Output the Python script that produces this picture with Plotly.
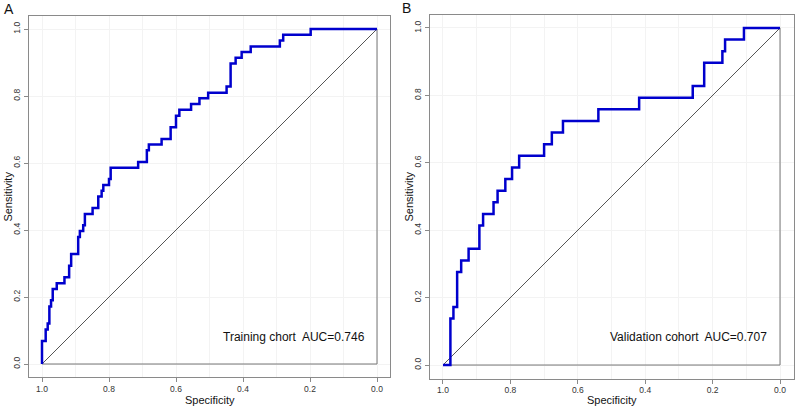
import plotly.graph_objects as go

# ---------------- data ----------------
train_spec = [1.0, 1.0, 0.989, 0.983, 0.978, 0.973, 0.968, 0.956, 0.933, 0.919, 0.913,
              0.892, 0.887, 0.877, 0.872, 0.849, 0.832, 0.822, 0.817, 0.800, 0.795,
              0.713, 0.687, 0.681, 0.643, 0.616, 0.600, 0.590, 0.555, 0.530, 0.504,
              0.449, 0.437, 0.422, 0.404, 0.377, 0.290, 0.280, 0.198, 0.0]
train_sens = [0.0, 0.069, 0.103, 0.121, 0.172, 0.190, 0.224, 0.241, 0.259, 0.293, 0.328,
              0.379, 0.397, 0.414, 0.448, 0.466, 0.500, 0.517, 0.534, 0.552, 0.586,
              0.603, 0.638, 0.655, 0.672, 0.707, 0.741, 0.759, 0.776, 0.793, 0.810,
              0.828, 0.897, 0.914, 0.931, 0.948, 0.966, 0.983, 1.0, 1.0]

val_spec = [1.0, 0.978, 0.969, 0.958, 0.946, 0.924, 0.892, 0.881, 0.850, 0.838, 0.815,
            0.795, 0.774, 0.700, 0.677, 0.644, 0.539, 0.418, 0.259, 0.225, 0.171,
            0.163, 0.107, 0.0]
val_sens = [0.0, 0.138, 0.172, 0.276, 0.310, 0.345, 0.414, 0.448, 0.483, 0.517, 0.552,
            0.586, 0.621, 0.655, 0.690, 0.724, 0.759, 0.793, 0.828, 0.897, 0.931,
            0.966, 1.0, 1.0]

panel_labels = ["A", "B"]
auc_texts = ["Training chort  AUC=0.746", "Validation cohort  AUC=0.707"]
tick_vals = [0.0, 0.2, 0.4, 0.6, 0.8, 1.0]
tick_text = ["0.0", "0.2", "0.4", "0.6", "0.8", "1.0"]
ref_x = [1.0, 0.0]
ref_y = [0.0, 1.0]
frame_x = [1.0, 0.0, 0.0]
frame_y = [0.0, 0.0, 1.0]

# ---------------- figure ----------------
W, H = 795, 406
FONT = "Liberation Sans, Arial, sans-serif"
BLUE = "#0000CD"
GRAY = "#8a8a8a"

# panel boxes in pixels: (left, right, top, bottom)
boxes = [(28.6, 390.4, 15.6, 377.4), (429.5, 793.5, 14.5, 378.5)]

fig = go.Figure()
curves = [(train_spec, train_sens), (val_spec, val_sens)]

for i, (spec, sens) in enumerate(curves):
    xa = "x" if i == 0 else "x2"
    ya = "y" if i == 0 else "y2"
    fig.add_trace(go.Scatter(x=frame_x, y=frame_y, mode="lines",
                             line=dict(color="#777777", width=1),
                             xaxis=xa, yaxis=ya, hoverinfo="skip", showlegend=False))
    fig.add_trace(go.Scatter(x=ref_x, y=ref_y, mode="lines",
                             line=dict(color="#555555", width=1),
                             xaxis=xa, yaxis=ya, hoverinfo="skip", showlegend=False))
    fig.add_trace(go.Scatter(x=spec, y=sens, mode="lines",
                             line=dict(color=BLUE, width=2.5, shape="hv"),
                             xaxis=xa, yaxis=ya, showlegend=False))

axis_common = dict(
    showline=True, mirror=True, linecolor=GRAY, linewidth=1,
    ticks="outside", ticklen=4, tickcolor=GRAY, tickwidth=1,
    tickvals=tick_vals, ticktext=tick_text,
    tickfont=dict(family=FONT, size=8.5, color="#333333"),
    showgrid=True, gridcolor="#f3f3f3", gridwidth=1, zeroline=False,
    automargin=False,
)

for i, (l, r, t, b) in enumerate(boxes):
    xd = [l / W, r / W]
    yd = [1 - b / H, 1 - t / H]
    xkey = "xaxis" if i == 0 else "xaxis2"
    ykey = "yaxis" if i == 0 else "yaxis2"
    xa = dict(axis_common)
    xa.update(domain=xd, range=[1.04, -0.04], anchor="y" if i == 0 else "y2",
              minor=dict(dtick=0.1, tick0=0, showgrid=True, gridcolor="#f3f3f3", ticks=""),
              ticklabelstandoff=-1)
    ya = dict(axis_common)
    ya.update(domain=yd, range=[-0.04, 1.04], anchor="x" if i == 0 else "x2",
              tickangle=-90, ticklabelstandoff=0)
    fig.layout[xkey] = xa
    fig.layout[ykey] = ya

annotations = []
# panel letters
letter_pos = [(9, 9), (406, 8)]
for lab, (px, py) in zip(panel_labels, letter_pos):
    annotations.append(dict(text=lab, x=px / W, y=1 - py / H, xref="paper", yref="paper",
                            showarrow=False, xanchor="center", yanchor="middle",
                            font=dict(family=FONT, size=14, color="#111111")))
# axis titles
for i, (l, r, t, b) in enumerate(boxes):
    cx = (l + r) / 2
    cy = (t + b) / 2
    annotations.append(dict(text="Specificity", x=cx / W, y=1 - 400 / H,
                            xref="paper", yref="paper", showarrow=False,
                            xanchor="center", yanchor="middle",
                            font=dict(family=FONT, size=11, color="#111111")))
    annotations.append(dict(text="Sensitivity", x=(l - 21.5) / W, y=1 - cy / H,
                            xref="paper", yref="paper", showarrow=False, textangle=-90,
                            xanchor="center", yanchor="middle",
                            font=dict(family=FONT, size=11, color="#111111")))
# AUC texts (placed in data coordinates)
auc_pos = [(0.248, 0.08), (0.271, 0.083)]
for i, (txt, (ax, ay)) in enumerate(zip(auc_texts, auc_pos)):
    annotations.append(dict(text=txt, x=ax, y=ay, xref="x" if i == 0 else "x2",
                            yref="y" if i == 0 else "y2", showarrow=False,
                            xanchor="center", yanchor="middle",
                            font=dict(family=FONT, size=12, color="#111111")))

fig.update_layout(
    width=W, height=H, margin=dict(l=0, r=0, t=0, b=0),
    paper_bgcolor="white", plot_bgcolor="white",
    annotations=annotations, showlegend=False,
)

fig.write_html(
    "out.html",
    config={"displayModeBar": False},
    post_script="document.body.style.margin='0';document.body.style.padding='0';"
                "document.body.style.overflow='hidden';",
)
